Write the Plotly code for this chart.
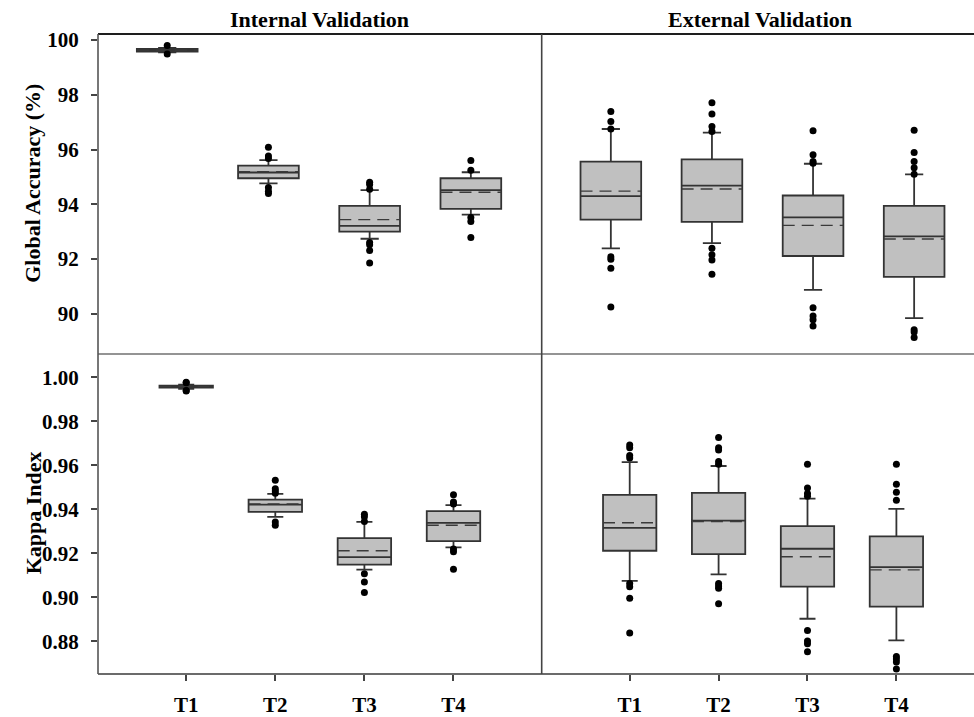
import plotly.graph_objects as go

# Category labels (training sets)
categories = ["T1", "T2", "T3", "T4"]
positions = [1, 2, 3, 4]

# Global accuracy (%) - internal validation
ga_int_q1 = [99.58, 94.95, 93.00, 93.83]
ga_int_med = [99.63, 95.16, 93.21, 94.52]
ga_int_q3 = [99.68, 95.41, 93.94, 94.95]
ga_int_lo = [99.55, 94.76, 92.74, 93.62]
ga_int_hi = [99.71, 95.61, 94.52, 95.17]
ga_int_mean = [99.63, 95.19, 93.44, 94.44]
ga_int_out = [
    [99.80, 99.49],
    [96.08, 95.76, 95.67, 94.61, 94.48, 94.39],
    [94.80, 94.72, 94.55, 92.60, 92.52, 92.31, 91.85],
    [95.60, 95.24, 93.52, 93.37, 92.79],
]

# Global accuracy (%) - external validation
ga_ext_q1 = [93.44, 93.36, 92.11, 91.35]
ga_ext_med = [94.30, 94.68, 93.52, 92.83]
ga_ext_q3 = [95.56, 95.64, 94.32, 93.94]
ga_ext_lo = [92.39, 92.58, 90.87, 89.84]
ga_ext_hi = [96.75, 96.62, 95.48, 95.09]
ga_ext_mean = [94.48, 94.56, 93.23, 92.73]
ga_ext_out = [
    [97.39, 97.02, 96.75, 92.08, 91.99, 91.66, 90.25],
    [97.71, 97.30, 96.84, 96.66, 92.39, 92.16, 91.96, 91.44],
    [96.69, 95.81, 95.56, 95.50, 90.22, 89.92, 89.78, 89.55],
    [96.70, 95.89, 95.56, 95.33, 95.10, 89.42, 89.33, 89.13],
]

# Kappa index - internal validation
ka_int_q1 = [0.9953, 0.9389, 0.9149, 0.9256]
ka_int_med = [0.9958, 0.9422, 0.9183, 0.9339]
ka_int_q3 = [0.9962, 0.9444, 0.9269, 0.9392]
ka_int_lo = [0.9948, 0.9366, 0.9126, 0.9227]
ka_int_hi = [0.9967, 0.9470, 0.9343, 0.9419]
ka_int_mean = [0.9958, 0.9425, 0.9212, 0.9328]
ka_int_out = [
    [0.9978, 0.9975, 0.9940, 0.9938],
    [0.9532, 0.9494, 0.9484, 0.9473, 0.9343, 0.9328],
    [0.9378, 0.9366, 0.9345, 0.9108, 0.9070, 0.9022],
    [0.9467, 0.9434, 0.9425, 0.9220, 0.9208, 0.9128],
]

# Kappa index - external validation
ka_ext_q1 = [0.9212, 0.9197, 0.9049, 0.8958]
ka_ext_med = [0.9316, 0.9349, 0.9221, 0.9138]
ka_ext_q3 = [0.9466, 0.9475, 0.9324, 0.9277]
ka_ext_lo = [0.9075, 0.9105, 0.8903, 0.8805]
ka_ext_hi = [0.9615, 0.9597, 0.9449, 0.9402]
ka_ext_mean = [0.9339, 0.9345, 0.9185, 0.9125]
ka_ext_out = [
    [0.9692, 0.9680, 0.9645, 0.9633, 0.9063, 0.9049, 0.8996, 0.8838],
    [0.9727, 0.9680, 0.9670, 0.9618, 0.9605, 0.9063, 0.9052, 0.9042, 0.8971],
    [0.9605, 0.9497, 0.9472, 0.9460, 0.8850, 0.8802, 0.8790, 0.8753],
    [0.9605, 0.9514, 0.9478, 0.9442, 0.8732, 0.8720, 0.8706, 0.8675],
]

ga_ticks = [90, 92, 94, 96, 98, 100]
ka_ticks = [0.88, 0.90, 0.92, 0.94, 0.96, 0.98, 1.00]

FONT = "Liberation Serif"
BOX_FILL = "#c0c0c0"
BOX_LINE = "#333333"
BOX_WIDTH = 0.6

fig = go.Figure()


def add_panel(xa, ya, q1, med, q3, lo, hi, mean, outliers):
    fig.add_trace(go.Box(
        x=positions, q1=q1, median=med, q3=q3,
        lowerfence=lo, upperfence=hi,
        boxpoints=False, width=BOX_WIDTH, whiskerwidth=0.3,
        fillcolor=BOX_FILL, line=dict(color=BOX_LINE, width=1.8),
        xaxis=xa, yaxis=ya, showlegend=False, hoverinfo="skip",
    ))
    # dashed mean line across each box
    mx, my = [], []
    for p, m in zip(positions, mean):
        mx += [p - BOX_WIDTH / 2, p + BOX_WIDTH / 2, None]
        my += [m, m, None]
    fig.add_trace(go.Scatter(
        x=mx, y=my, mode="lines",
        line=dict(color="#3a3a3a", width=1.4, dash="12px,7px"),
        xaxis=xa, yaxis=ya, showlegend=False, hoverinfo="skip",
    ))
    xs, ys = [], []
    for p, vals in zip(positions, outliers):
        xs += [p] * len(vals)
        ys += vals
    fig.add_trace(go.Scatter(
        x=xs, y=ys, mode="markers",
        marker=dict(color="black", size=7),
        xaxis=xa, yaxis=ya, showlegend=False, hoverinfo="skip",
    ))


# bottom row: x/y (internal), x2/y2 (external); top row: x3/y3, x4/y4
add_panel("x", "y", ka_int_q1, ka_int_med, ka_int_q3, ka_int_lo, ka_int_hi, ka_int_mean, ka_int_out)
add_panel("x2", "y2", ka_ext_q1, ka_ext_med, ka_ext_q3, ka_ext_lo, ka_ext_hi, ka_ext_mean, ka_ext_out)
add_panel("x3", "y3", ga_int_q1, ga_int_med, ga_int_q3, ga_int_lo, ga_int_hi, ga_int_mean, ga_int_out)
add_panel("x4", "y4", ga_ext_q1, ga_ext_med, ga_ext_q3, ga_ext_lo, ga_ext_hi, ga_ext_mean, ga_ext_out)

XSPLIT = 0.5065
YSPLIT = 0.5

tickfont = dict(family=FONT, size=21, color="black", weight="bold")
base_axis = dict(showgrid=False, zeroline=False, showline=False)

bottom_x = dict(base_axis, tickvals=positions, ticktext=categories, ticks="outside",
                ticklen=6, tickwidth=1.5, tickcolor="#444",
                tickfont=dict(family=FONT, size=21, color="black", weight="bold"),
                ticklabelstandoff=6)
top_x = dict(base_axis, showticklabels=False, ticks="")

fig.update_layout(
    width=974, height=717,
    margin=dict(l=98, r=0, t=34, b=41),
    paper_bgcolor="white", plot_bgcolor="white",
    font=dict(family=FONT, color="black"),
    xaxis=dict(bottom_x, domain=[0, XSPLIT], range=[0.01, 4.99], anchor="y"),
    xaxis2=dict(bottom_x, domain=[XSPLIT, 1], range=[0.01, 4.873], anchor="y2"),
    xaxis3=dict(top_x, domain=[0, XSPLIT], range=[0.316, 4.70], anchor="y3"),
    xaxis4=dict(top_x, domain=[XSPLIT, 1], range=[0.316, 4.592], anchor="y4"),
    yaxis=dict(base_axis, domain=[0, YSPLIT], range=[0.8652, 1.0106], anchor="x",
               tickvals=ka_ticks, tickformat=".2f", ticks="outside", ticklen=6, tickwidth=1.5,
               tickcolor="#444", tickfont=tickfont, ticklabelstandoff=8),
    yaxis2=dict(base_axis, domain=[0, YSPLIT], range=[0.8652, 1.0106], anchor="x2",
                showticklabels=False, ticks=""),
    yaxis3=dict(base_axis, domain=[YSPLIT, 1], range=[88.53, 100.22], anchor="x3",
                tickvals=ga_ticks, ticks="outside", ticklen=6, tickwidth=1.5,
                tickcolor="#444", tickfont=tickfont, ticklabelstandoff=8),
    yaxis4=dict(base_axis, domain=[YSPLIT, 1], range=[88.53, 100.22], anchor="x4",
                showticklabels=False, ticks=""),
)

# panel frame lines
frame = [
    (0, 1, 1, 1, "#1e1e1e", 2),
    (0, YSPLIT, 1, YSPLIT, "#707070", 1.6),
    (0, 0, 1, 0, "#3a3a3a", 1.6),
    (0, 0, 0, 1, "#555555", 1.6),
    (XSPLIT, 0, XSPLIT, 1, "#444444", 1.6),
]
for x0, y0, x1, y1, c, w in frame:
    fig.add_shape(type="line", xref="paper", yref="paper", x0=x0, y0=y0, x1=x1, y1=y1,
                  line=dict(color=c, width=w), layer="above")

titlefont = dict(family=FONT, size=22, color="black", weight="bold")
fig.add_annotation(text="Internal Validation", xref="paper", yref="paper",
                   x=XSPLIT / 2, y=1.0234, xanchor="center", yanchor="middle",
                   showarrow=False, font=titlefont)
fig.add_annotation(text="External Validation", xref="paper", yref="paper",
                   x=(XSPLIT + 1) / 2 + 0.003, y=1.0234, xanchor="center", yanchor="middle",
                   showarrow=False, font=titlefont)
fig.add_annotation(text="Global Accuracy (%)", xref="paper", yref="paper",
                   x=-0.0742, y=0.766, textangle=-90, xanchor="center", yanchor="middle",
                   showarrow=False, font=titlefont)
fig.add_annotation(text="Kappa Index", xref="paper", yref="paper",
                   x=-0.0742, y=0.251, textangle=-90, xanchor="center", yanchor="middle",
                   showarrow=False, font=titlefont)

fig.write_html("out.html")
